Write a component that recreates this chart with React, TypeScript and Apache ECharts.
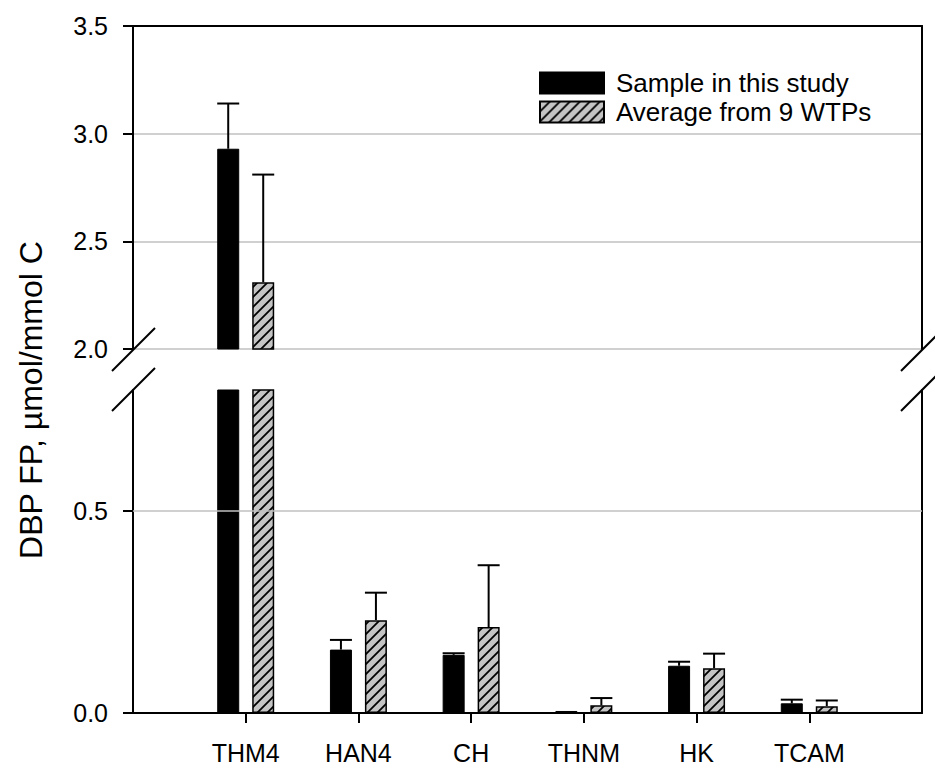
import React, { useEffect, useRef } from "react";
import * as echarts from "echarts";

// Disinfection by-product formation potential per category
const categories = ["THM4", "HAN4", "CH", "THNM", "HK", "TCAM"];
const sampleValues = [2.93, 0.157, 0.144, 0.005, 0.117, 0.024];
const sampleErrors = [0.21, 0.024, 0.004, 0, 0.01, 0.009];
const averageValues = [2.31, 0.23, 0.213, 0.019, 0.111, 0.017];
const averageErrors = [0.5, 0.068, 0.153, 0.018, 0.036, 0.014];

const upperTicks = [2.0, 2.5, 3.0, 3.5];
const lowerTicks = [0.0, 0.5];

const SERIES_SAMPLE = "Sample in this study";
const SERIES_AVERAGE = "Average from 9 WTPs";

const FONT = "'Liberation Sans', Arial, sans-serif";
const UPPER_MIN = 2.0;
const UPPER_MAX = 3.5;
const LOWER_MIN = 0;
const LOWER_MAX = 0.8;
const BAR_WIDTH = 22;
const BAR_OFFSET = 17.5;

// Empty categories at both ends pad the axis by one band on each side
const xCats = ["", ...categories, ""];

function makeHatch(): HTMLCanvasElement {
  const s = 10;
  const c = document.createElement("canvas");
  c.width = s;
  c.height = s;
  const ctx = c.getContext("2d")!;
  ctx.fillStyle = "#c4c4c4";
  ctx.fillRect(0, 0, s, s);
  ctx.strokeStyle = "#000";
  ctx.lineWidth = 1.8;
  ctx.beginPath();
  ctx.moveTo(-1, s + 1);
  ctx.lineTo(s + 1, -1);
  ctx.moveTo(-1, 1);
  ctx.lineTo(1, -1);
  ctx.moveTo(s - 1, s + 1);
  ctx.lineTo(s + 1, s - 1);
  ctx.stroke();
  return c;
}

function errorSeries(
  name: string,
  values: number[],
  errors: number[],
  offset: number,
  axisIdx: number,
  yIdx: number
) {
  return {
    type: "custom",
    name: name + " error",
    xAxisIndex: axisIdx,
    yAxisIndex: yIdx,
    clip: true,
    z: 3,
    silent: true,
    encode: { x: 0, y: 1 },
    data: categories.map((c, i) => [c, values[i], errors[i]]),
    renderItem: (params: any, api: any) => {
      const cat = api.value(0);
      const v = api.value(1);
      const e = api.value(2);
      if (!e) return null;
      const base = api.coord([cat, v]);
      const top = api.coord([cat, v + e]);
      const x = base[0] + offset;
      const style = { stroke: "#000", lineWidth: 2 };
      return {
        type: "group",
        children: [
          { type: "line", shape: { x1: x, y1: base[1], x2: x, y2: top[1] }, style },
          {
            type: "line",
            shape: { x1: x - BAR_WIDTH / 2, y1: top[1], x2: x + BAR_WIDTH / 2, y2: top[1] },
            style,
          },
        ],
      };
    },
  };
}

export default function App() {
  const ref = useRef<HTMLDivElement>(null);

  useEffect(() => {
    document.body.style.margin = "0";
    const chart = echarts.init(ref.current!, undefined, { renderer: "svg" });
    const hatch = { image: makeHatch(), repeat: "repeat" };

    const sampleStyle = { color: "#000", borderColor: "#000", borderWidth: 1 };
    const averageStyle = { color: hatch, borderColor: "#000", borderWidth: 1.5 };

    // bars are keyed by category name; the upper panel only holds values above its floor
    const pairs = (arr: number[]) => categories.map((c, i) => [c, arr[i]]);
    const upperPairs = (arr: number[]) =>
      categories.map((c, i) => [c, arr[i] > UPPER_MIN ? arr[i] : "-"]);

    const axisLine = { show: true, lineStyle: { color: "#000", width: 2 } };
    const tickStyle = { show: true, length: 10, lineStyle: { color: "#000", width: 2 } };
    const labelStyle = {
      color: "#000",
      fontSize: 25,
      fontFamily: FONT,
      margin: 25,
      formatter: (v: number) => v.toFixed(1),
    };

    const breakLine = (x1: number, y1: number, x2: number, y2: number) => ({
      type: "line",
      shape: { x1, y1, x2, y2 },
      style: { stroke: "#000", lineWidth: 2 },
      z: 100,
    });

    chart.setOption({
      animation: false,
      backgroundColor: "#fff",
      grid: [
        { left: 133, right: 13, top: 26, height: 323, outerBoundsMode: "none" },
        { left: 133, right: 13, top: 390, height: 323, outerBoundsMode: "none" },
      ],
      legend: {
        orient: "vertical",
        left: 539,
        top: 70,
        padding: 0,
        itemWidth: 64,
        itemHeight: 21,
        itemGap: 3,
        icon: "rect",
        selectedMode: false,
        data: [SERIES_SAMPLE, SERIES_AVERAGE],
        textStyle: {
          color: "#000",
          fontSize: 26,
          fontFamily: FONT,
          padding: [0, 0, 0, 7],
        },
      },
      xAxis: [
        {
          gridIndex: 0,
          type: "category",
          data: xCats,
          boundaryGap: false,
          position: "top",
          axisLine,
          axisTick: { show: false },
          axisLabel: { show: false },
          splitLine: { show: false },
        },
        {
          gridIndex: 1,
          type: "category",
          data: xCats,
          boundaryGap: false,
          position: "bottom",
          axisLine,
          axisTick: { ...tickStyle, interval: (_i: number, v: string) => v !== "" },
          axisLabel: {
            color: "#000",
            fontSize: 25,
            fontFamily: FONT,
            margin: 27,
            interval: 0,
          },
          splitLine: { show: false },
        },
      ],
      yAxis: [
        {
          gridIndex: 0,
          type: "value",
          min: UPPER_MIN,
          max: UPPER_MAX,
          interval: 0.5,
          axisLine,
          axisTick: { ...tickStyle, customValues: upperTicks },
          axisLabel: { ...labelStyle, customValues: upperTicks },
          splitLine: { show: true, lineStyle: { color: "#c0c0c0", width: 1.5 } },
        },
        {
          gridIndex: 0,
          type: "value",
          position: "right",
          min: UPPER_MIN,
          max: UPPER_MAX,
          interval: 0.5,
          axisLine,
          axisTick: { show: false },
          axisLabel: { show: false },
          splitLine: { show: false },
        },
        {
          gridIndex: 1,
          type: "value",
          min: LOWER_MIN,
          max: LOWER_MAX,
          interval: 0.5,
          axisLine,
          axisTick: { ...tickStyle, customValues: lowerTicks },
          axisLabel: { ...labelStyle, customValues: lowerTicks },
          splitLine: { show: false },
        },
        {
          gridIndex: 1,
          type: "value",
          position: "right",
          min: LOWER_MIN,
          max: LOWER_MAX,
          interval: 0.5,
          axisLine,
          axisTick: { show: false },
          axisLabel: { show: false },
          splitLine: { show: false },
        },
      ],
      series: [
        {
          type: "bar",
          name: SERIES_SAMPLE,
          xAxisIndex: 0,
          yAxisIndex: 0,
          barWidth: BAR_WIDTH,
          barGap: "59%",
          itemStyle: sampleStyle,
          data: upperPairs(sampleValues),
        },
        {
          type: "bar",
          name: SERIES_AVERAGE,
          xAxisIndex: 0,
          yAxisIndex: 0,
          barWidth: BAR_WIDTH,
          barGap: "59%",
          itemStyle: averageStyle,
          data: upperPairs(averageValues),
        },
        {
          type: "bar",
          name: SERIES_SAMPLE,
          xAxisIndex: 1,
          yAxisIndex: 2,
          barWidth: BAR_WIDTH,
          barGap: "59%",
          itemStyle: sampleStyle,
          data: pairs(sampleValues),
        },
        {
          type: "bar",
          name: SERIES_AVERAGE,
          xAxisIndex: 1,
          yAxisIndex: 2,
          barWidth: BAR_WIDTH,
          barGap: "59%",
          itemStyle: averageStyle,
          data: pairs(averageValues),
        },
        errorSeries(SERIES_SAMPLE, sampleValues, sampleErrors, -BAR_OFFSET, 0, 0),
        errorSeries(SERIES_AVERAGE, averageValues, averageErrors, BAR_OFFSET, 0, 0),
        errorSeries(SERIES_SAMPLE, sampleValues, sampleErrors, -BAR_OFFSET, 1, 2),
        errorSeries(SERIES_AVERAGE, averageValues, averageErrors, BAR_OFFSET, 1, 2),
        {
          // gridline of the lower panel
          type: "line",
          name: "grid",
          xAxisIndex: 1,
          yAxisIndex: 2,
          z: 1,
          silent: true,
          data: [],
          markLine: {
            silent: true,
            symbol: "none",
            label: { show: false },
            lineStyle: { color: "#c0c0c0", width: 1.5, type: "solid" },
            data: [{ yAxis: 0.5 }],
          },
        },
      ],
      graphic: [
        breakLine(112, 371, 155, 328),
        breakLine(112, 411, 155, 368),
        breakLine(901, 371, 944, 328),
        breakLine(901, 411, 944, 368),
        {
          type: "text",
          x: 31,
          y: 400,
          rotation: Math.PI / 2,
          style: {
            text: "DBP FP, \u00b5mol/mmol C",
            fill: "#000",
            fontSize: 32,
            fontFamily: FONT,
            align: "center",
            verticalAlign: "middle",
          },
        },
      ],
    });

    return () => chart.dispose();
  }, []);

  return (
    <div
      ref={ref}
      style={{ position: "fixed", left: 0, top: 0, width: 935, height: 769 }}
    />
  );
}
